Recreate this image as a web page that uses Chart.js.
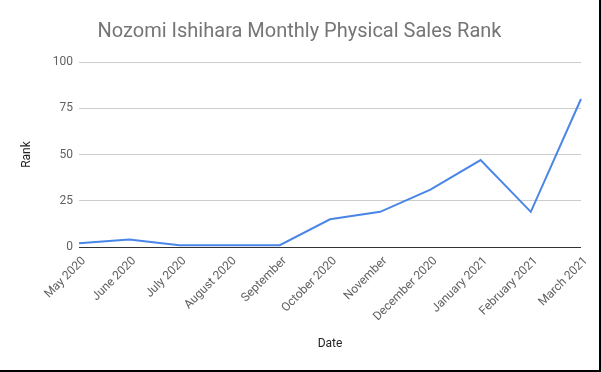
<!DOCTYPE html>
<html>
<head>
<meta charset="utf-8">
<script src="https://cdn.jsdelivr.net/npm/chart.js@4"></script>
<style>
  html, body { margin: 0; padding: 0; background: #fff; }
  #wrap { position: relative; width: 599px; height: 370px; border-right: 2px solid #000; border-bottom: 2px solid #000; }
  canvas { display: block; }
</style>
</head>
<body>
<div id="wrap"><canvas id="c" width="599" height="370"></canvas></div>
<script>
const categories = ["May 2020", "June 2020", "July 2020", "August 2020", "September", "October 2020", "November", "December 2020", "January 2021", "February 2021", "March 2021"];
const rankValues = [2, 4, 1, 1, 1, 15, 19, 31, 47, 19, 80];
const yTicks = [0, 25, 50, 75, 100];
const chartTitle = "Nozomi Ishihara Monthly Physical Sales Rank";
const xTitle = "Date";
const yTitle = "Rank";

const FONT = "Roboto";
new Chart(document.getElementById('c'), {
  type: 'line',
  data: {
    labels: categories,
    datasets: [{
      label: yTitle,
      data: rankValues,
      borderColor: '#4a86e8',
      backgroundColor: '#4a86e8',
      borderWidth: 2,
      pointRadius: 0,
      tension: 0,
      fill: false
    }]
  },
  options: {
    responsive: false,
    animation: false,
    devicePixelRatio: 1,
    layout: { padding: 0 },
    plugins: {
      legend: { display: false },
      tooltip: { enabled: false },
      title: {
        display: true,
        text: chartTitle,
        color: '#757575',
        font: { family: FONT, size: 20, weight: 'normal' },
        padding: { top: 20, bottom: 18 }
      }
    },
    scales: {
      x: {
        offset: false,
        grid: { display: false, drawTicks: false },
        border: { display: false },
        ticks: {
          color: '#616161',
          font: { family: FONT, size: 12 },
          minRotation: 45,
          maxRotation: 45,
          autoSkip: false,
          padding: 7,
          labelOffset: 5
        },
        title: {
          display: true,
          text: xTitle,
          color: '#222',
          font: { family: FONT, size: 12 },
          padding: { top: 0, bottom: 19 }
        },
        afterFit: s => { s.height = 123; }
      },
      y: {
        min: 0,
        max: 100,
        afterBuildTicks: s => { s.ticks = yTicks.map(v => ({ value: v })); },
        grid: {
          drawTicks: false,
          color: ctx => ctx.tick && ctx.tick.value === 0 ? '#333333' : '#cccccc',
          lineWidth: 1
        },
        border: { display: false },
        ticks: {
          color: '#616161',
          font: { family: FONT, size: 12 },
          padding: 6
        },
        title: {
          display: true,
          text: yTitle,
          color: '#222',
          font: { family: FONT, size: 12 },
          padding: { top: 20, bottom: 0 }
        },
        afterFit: s => { s.width = 79; }
      },
      yRight: {
        position: 'right',
        min: 0,
        max: 100,
        grid: { display: false, drawTicks: false },
        border: { display: false },
        ticks: { display: false },
        afterFit: s => { s.width = 18; }
      }
    }
  }
});
</script>
</body>
</html>
